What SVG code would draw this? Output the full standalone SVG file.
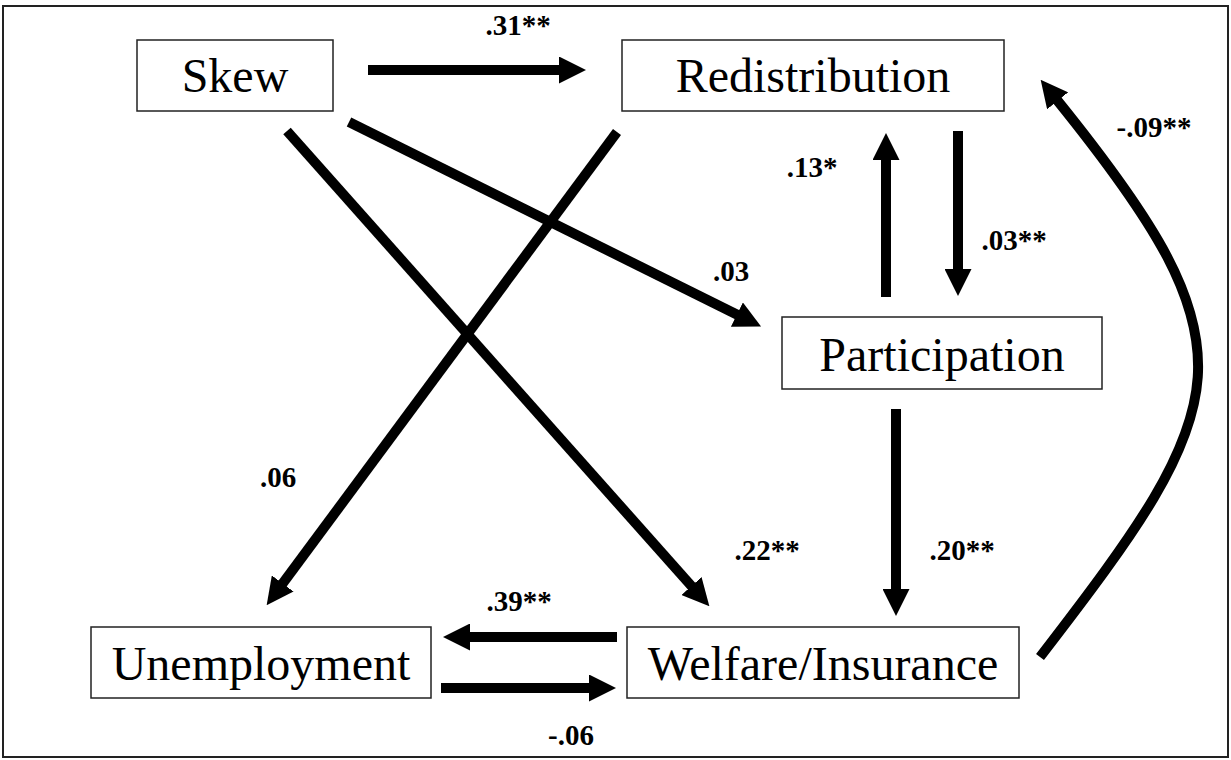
<svg xmlns="http://www.w3.org/2000/svg" width="1231" height="760" viewBox="0 0 1231 760">
<style>
.box{fill:#fff;stroke:#222;stroke-width:1.5}
.nt{font-family:"Liberation Serif","Times New Roman",serif;font-size:48px;fill:#000;text-anchor:middle}
.lb{font-family:"Liberation Serif","Times New Roman",serif;font-size:29px;font-weight:bold;fill:#000;text-anchor:middle}
.cn{fill:none;stroke:#000;stroke-width:10;stroke-linecap:butt;marker-end:url(#ah)}
</style>
<defs>
<marker id="ah" markerUnits="userSpaceOnUse" markerWidth="27" markerHeight="27" viewBox="0 0 27 27" refX="1" refY="13.5" orient="auto">
<path d="M0,0 L27,13.5 L0,27 z" fill="#000"/>
</marker>
</defs>
<rect x="0" y="0" width="1231" height="760" fill="#fff"/>
<rect x="3" y="6" width="1225" height="751" fill="none" stroke="#222" stroke-width="2"/>
<g id="connectors">
<line class="cn" x1="368" y1="70" x2="560" y2="70"/>
<line class="cn" x1="958" y1="131" x2="958" y2="270"/>
<line class="cn" x1="886" y1="297" x2="886" y2="159"/>
<line class="cn" x1="349" y1="122" x2="737.8" y2="315"/>
<line class="cn" x1="287" y1="131" x2="692.1" y2="586.8"/>
<line class="cn" x1="617" y1="132" x2="282.1" y2="584.3"/>
<line class="cn" x1="896" y1="409" x2="896" y2="590"/>
<line class="cn" x1="617" y1="637" x2="469" y2="637"/>
<line class="cn" x1="441" y1="688" x2="590" y2="688"/>
<path class="cn" d="M1040,657 C1236,403 1259,350 1057,100"/>
</g>
<g id="labels">
<text class="lb" x="518" y="35">.31**</text>
<text class="lb" x="812" y="177">.13*</text>
<text class="lb" x="1014" y="250">.03**</text>
<text class="lb" x="731" y="281">.03</text>
<text class="lb" x="1154" y="137">-.09**</text>
<text class="lb" x="278" y="487">.06</text>
<text class="lb" x="767" y="560">.22**</text>
<text class="lb" x="962" y="560">.20**</text>
<text class="lb" x="519" y="611">.39**</text>
<text class="lb" x="571" y="745">-.06</text>
</g>
<g id="skew">
<rect class="box" x="137" y="40" width="196" height="71"/>
<text class="nt" x="235" y="92">Skew</text>
</g>
<g id="redistribution">
<rect class="box" x="622" y="40" width="382" height="71"/>
<text class="nt" x="813" y="92">Redistribution</text>
</g>
<g id="participation">
<rect class="box" x="782" y="317" width="320" height="72"/>
<text class="nt" x="942" y="371">Participation</text>
</g>
<g id="unemployment">
<rect class="box" x="91" y="627" width="340" height="71"/>
<text class="nt" x="261" y="680">Unemployment</text>
</g>
<g id="welfare">
<rect class="box" x="627" y="627" width="392" height="71"/>
<text class="nt" x="823" y="680">Welfare/Insurance</text>
</g>
</svg>
